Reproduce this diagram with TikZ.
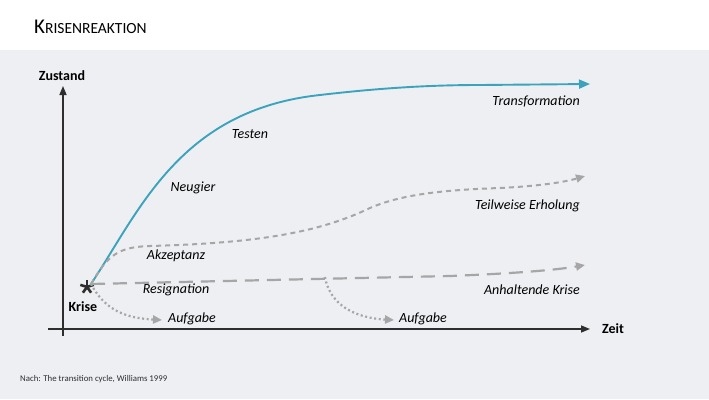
\documentclass[tikz,border=0pt]{standalone}
\usepackage{fontspec}
\setmainfont{Carlito}
\usepackage{tikz}
\usetikzlibrary{arrows.meta}
\definecolor{bggray}{HTML}{EEEFF3}
\definecolor{teal}{HTML}{3BA3BC}
\definecolor{pathgray}{HTML}{A6A6A6}
\definecolor{axisgray}{HTML}{2E2E2E}

\begin{document}
\begin{tikzpicture}[x=1pt, y=-1pt,
  lbl/.style={font=\fontsize{14}{16}\selectfont\itshape, inner sep=1pt},
  axlbl/.style={font=\fontsize{14}{16}\selectfont\bfseries, inner sep=1pt},
  axis/.style={draw=axisgray, line width=1.5pt, -{Triangle[length=9pt,width=7pt]}},
  grayarrow/.style={draw=pathgray, line width=2pt, -{Triangle[length=9pt,width=8pt]}}]
\useasboundingbox (0,0) rectangle (709,399);
\fill[white] (0,0) rectangle (709,50);
\fill[bggray] (0,50) rectangle (709,399);
\node (title)[anchor=base west, inner sep=0pt] at (34,33) {\fontsize{21}{24}\selectfont K\fontsize{15.5}{18}\selectfont RISENREAKTION};
\node (note)[anchor=west, inner sep=0pt, font=\fontsize{8.8}{10}\selectfont, text=axisgray] at (20,379) {Nach: The transition cycle, Williams 1999};
\coordinate (ytop) at (63,86);
\coordinate (ybot) at (63,336);
\coordinate (xleft) at (48,329);
\coordinate (xright) at (590,329);
\draw[axis] (ybot) -- (ytop);
\draw[axis] (xleft) -- (xright);
\node (zustand)[axlbl] at (62,76) {Zustand};
\node (zeit)[axlbl, anchor=west] at (601,329) {Zeit};
\coordinate (star) at (87,287);
\foreach \a in {-90,-18,54,126,198}
  \draw[axisgray, line width=2.6pt] (star) -- ++(\a:7);
\coordinate (origin) at (91,284);
\node (krise)[axlbl] at (83,307) {Krise};
\coordinate (transEnd) at (590,84);
\coordinate (teilEnd) at (585,176);
\coordinate (anhEnd) at (585,265);
\coordinate (fork) at (325,277);
\coordinate (aufEndA) at (162,320);
\coordinate (aufEndB) at (394,320);
\draw[teal, line width=1.9pt, -{Triangle[length=11pt,width=9pt]}] (origin) .. controls (140,210) and (180,110) .. (320,95)
  .. controls (380,88) and (430,85) .. (480,85) -- (transEnd);
\draw[grayarrow, dash pattern=on 5pt off 4pt] (origin) .. controls (108,255) and (118,247) .. (150,246)
  .. controls (260,243) and (320,232) .. (370,208) .. controls (400,195) and (440,190) .. (500,188)
  .. controls (540,186) and (565,182) .. (teilEnd);
\draw[grayarrow, line width=2.2pt, dash pattern=on 14pt off 8pt] (origin) -- (450,276) .. controls (500,274) and (550,271) .. (anhEnd);
\draw[grayarrow, line width=2.2pt, dash pattern=on 2pt off 2.6pt] (origin) .. controls (105,310) and (125,318) .. (aufEndA);
\draw[grayarrow, line width=2.2pt, dash pattern=on 2pt off 2.6pt] (fork) .. controls (330,305) and (355,318) .. (aufEndB);
\node (transformation)[lbl, anchor=east] at (581,101) {Transformation};
\node (testen)[lbl] at (250,134) {Testen};
\node (neugier)[lbl] at (193,188) {Neugier};
\node (teilweise)[lbl, anchor=east] at (581,206) {Teilweise Erholung};
\node (akzeptanz)[lbl] at (176,256) {Akzeptanz};
\node (resignation)[lbl] at (176,290) {Resignation};
\node (anhaltend)[lbl, anchor=east] at (581,290) {Anhaltende Krise};
\node (aufgabeA)[lbl] at (192,319) {Aufgabe};
\node (aufgabeB)[lbl] at (423,319) {Aufgabe};
\end{tikzpicture}
\end{document}
